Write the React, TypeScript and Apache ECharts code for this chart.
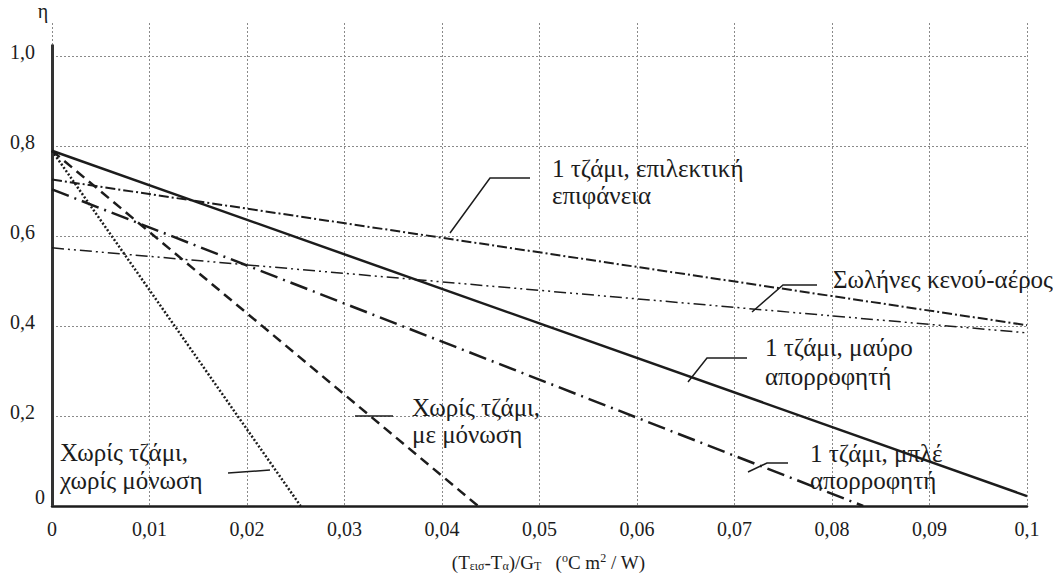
import React, { useEffect, useRef } from "react";
import * as echarts from "echarts";

// ---- data ----
const xTickValues = [0, 0.01, 0.02, 0.03, 0.04, 0.05, 0.06, 0.07, 0.08, 0.09, 0.1];
const xTickLabels = ["0", "0,01", "0,02", "0,03", "0,04", "0,05", "0,06", "0,07", "0,08", "0,09", "0,1"];
const yTickValues = [0, 0.2, 0.4, 0.6, 0.8, 1.0];
const yTickLabels = ["0", "0,2", "0,4", "0,6", "0,8", "1,0"];

const blackAbsorber = [[0, 0.79], [0.1, 0.022]]; // 1 τζάμι, μαύρο απορροφητή
const selectiveSurface = [[0, 0.726], [0.1, 0.402]]; // 1 τζάμι, επιλεκτική επιφάνεια
const vacuumTubes = [[0, 0.574], [0.1, 0.385]]; // Σωλήνες κενού-αέρος
const blueAbsorber = [[0, 0.704], [0.0832, 0]]; // 1 τζάμι, μπλέ απορροφητή
const noGlassInsulated = [[0, 0.79], [0.0437, 0]]; // Χωρίς τζάμι, με μόνωση
const noGlassNoInsulation = [[0, 0.79], [0.0255, 0]]; // Χωρίς τζάμι, χωρίς μόνωση

const FONT = "'Liberation Serif', 'DejaVu Serif', serif";
const INK = "#1c1c1c";
const GRID = "#8a8a8a";

type Ann = { lines: string[]; x: number; y: number; step: number; leader: number[][] };
const annotations: Ann[] = [
  { lines: ["1 τζάμι, επιλεκτική", "επιφάνεια"], x: 552, y: 168, step: 27, leader: [[530, 178], [490, 178], [450, 233]] },
  { lines: ["Σωλήνες κενού-αέρος"], x: 833, y: 279, step: 27, leader: [[817, 285], [783, 285], [752, 312]] },
  { lines: ["1 τζάμι, μαύρο", "απορροφητή"], x: 765, y: 347, step: 29, leader: [[747, 358], [707, 358], [688, 382]] },
  { lines: ["Χωρίς τζάμι,", "με μόνωση"], x: 412, y: 407, step: 27, leader: [[393, 416], [355, 416]] },
  { lines: ["1 τζάμι, μπλέ", "απορροφητή"], x: 810, y: 453, step: 27, leader: [[788, 463], [767, 463], [748, 472]] },
  { lines: ["Χωρίς τζάμι,", "χωρίς μόνωση"], x: 60, y: 452, step: 28, leader: [[228, 473], [270, 470]] },
];

export default function App() {
  const ref = useRef<HTMLDivElement>(null);
  useEffect(() => {
    if (!ref.current) return;
    const chart = echarts.init(ref.current, undefined, { renderer: "svg" });

    const mkLine = (name: string, data: number[][], type: any, width: number, extra: any = {}) => ({
      name,
      type: "line",
      data,
      symbol: "none",
      silent: true,
      lineStyle: { color: INK, width, type },
      z: 5,
      ...extra,
    });

    const graphics: any[] = [];
    annotations.forEach((a) => {
      a.lines.forEach((t, i) => {
        graphics.push({
          type: "text",
          x: a.x,
          y: a.y + i * a.step,
          silent: true,
          style: { text: t, fontFamily: FONT, fontSize: 25, fill: INK, align: "left", verticalAlign: "middle" },
          z: 10,
        });
      });
      graphics.push({
        type: "polyline",
        silent: true,
        shape: { points: a.leader },
        style: { stroke: INK, lineWidth: 1.5, fill: null },
        z: 10,
      });
    });

    chart.setOption({
      animation: false,
      backgroundColor: "#ffffff",
      grid: { left: 52, right: 26, top: 23, bottom: 60, containLabel: false },
      xAxis: {
        type: "value",
        min: 0,
        max: 0.1,
        interval: 0.01,
        name: "(T{sub|εισ}-T{sub|α})/G{sub|T}   ({sup|o}C m{sup|2} / W)",
        nameLocation: "middle",
        nameGap: 46,
        nameTextStyle: {
          fontFamily: FONT,
          fontSize: 19,
          color: INK,
          padding: [0, 0, 0, 18],
          rich: {
            sub: { fontFamily: FONT, fontSize: 12, color: INK, padding: [8, 0, 0, 0] },
            sup: { fontFamily: FONT, fontSize: 12, color: INK, padding: [0, 0, 8, 0] },
          },
        },
        axisLine: { show: true, lineStyle: { color: INK, width: 2.5 } },
        axisTick: { show: false },
        axisLabel: {
          margin: 13,
          fontFamily: FONT,
          fontSize: 20,
          color: INK,
          formatter: (v: number) => {
            const i = xTickValues.findIndex((t) => Math.abs(t - v) < 1e-9);
            return i >= 0 ? xTickLabels[i] : "";
          },
        },
        splitLine: { show: true, lineStyle: { color: GRID, type: [2, 2], width: 1 } },
      },
      yAxis: {
        type: "value",
        min: 0,
        max: 1.074,
        interval: 0.2,
        name: "η",
        nameLocation: "end",
        nameGap: 2,
        nameTextStyle: { fontFamily: FONT, fontSize: 20, color: INK, padding: [0, 18, 0, 0] },
        axisLine: { show: false },
        axisTick: { show: false },
        splitLine: { show: false },
        axisLabel: {
          margin: 7,
          fontFamily: FONT,
          fontSize: 20,
          color: INK,
          verticalAlign: "middle",
          formatter: (v: number) => {
            const i = yTickValues.findIndex((t) => Math.abs(t - v) < 1e-9);
            if (i < 0) return "";
            return i === 0 ? `{z|${yTickLabels[i]}}` : `{n|${yTickLabels[i]}}`;
          },
          rich: {
            n: { fontFamily: FONT, fontSize: 20, color: INK, padding: [0, 10, 9, 0] },
            z: { fontFamily: FONT, fontSize: 20, color: INK, padding: [0, 0, 19, 0] },
          },
        },
      },
      series: [
        mkLine("1 τζάμι, μαύρο απορροφητή", blackAbsorber, "solid", 2.5, {
          markLine: {
            silent: true,
            symbol: "none",
            label: { show: false },
            z: 1,
            data: [
              ...yTickValues.slice(1).map((v) => ({
                yAxis: v,
                lineStyle: { color: GRID, type: [2, 2], width: 1 },
              })),
              [
                { coord: [0, 0], lineStyle: { color: "#333", type: "solid", width: 3 } },
                { coord: [0, 1.026] },
              ],
            ],
          },
        }),
        mkLine("1 τζάμι, επιλεκτική επιφάνεια", selectiveSurface, [10, 3, 2, 3], 2),
        mkLine("Σωλήνες κενού-αέρος", vacuumTubes, [12, 4, 2, 4, 2, 4], 1.5),
        mkLine("1 τζάμι, μπλέ απορροφητή", blueAbsorber, [18, 6, 2, 6], 2.5),
        mkLine("Χωρίς τζάμι, με μόνωση", noGlassInsulated, [10, 6], 2.5),
        mkLine("Χωρίς τζάμι, χωρίς μόνωση", noGlassNoInsulation, [2, 2], 2.5),
      ],
      graphic: graphics,
    });

    return () => chart.dispose();
  }, []);

  return <div ref={ref} style={{ width: 1053, height: 577, position: "absolute", left: 0, top: 0 }} />;
}
